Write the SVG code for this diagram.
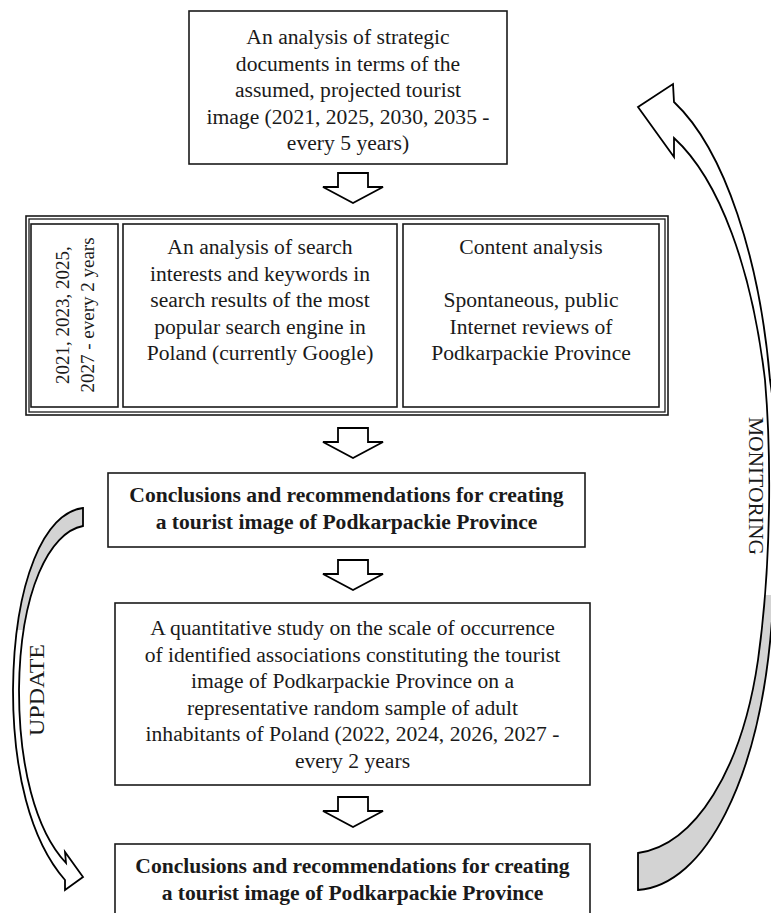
<svg xmlns="http://www.w3.org/2000/svg" width="771" height="913" viewBox="0 0 771 913">
<style>
.box{fill:#fff;stroke:#1a1a1a;stroke-width:1.6}
.t{font-family:"Liberation Serif","Times New Roman",serif;font-size:21.6px;fill:#1a1a1a;text-anchor:middle}
.b{font-weight:bold}
.r{font-size:19px}
.lab{font-family:"Liberation Serif","Times New Roman",serif;font-size:20px;fill:#1a1a1a;text-anchor:middle}
.ar{fill:#fff;stroke:#000;stroke-width:1.8;stroke-linejoin:miter}
.rib{stroke:#000;stroke-width:1.8;stroke-linejoin:miter}
</style>
<defs>
<path id="down" d="M-15,0 H15 V14 H30 L0,30 L-30,14 H-15 Z"/>
<clipPath id="clipU"><rect x="0" y="480" width="120" height="150"/></clipPath>
<clipPath id="clipM"><rect x="600" y="595" width="200" height="320"/></clipPath>
</defs>

<g id="node-strategic">
<rect class="box" x="189" y="11" width="318" height="153"/>
<text class="t" x="348" y="44">An analysis of strategic</text>
<text class="t" x="348" y="70.5">documents in terms of the</text>
<text class="t" x="348" y="97">assumed, projected tourist</text>
<text class="t" x="348" y="123.5">image (2021, 2025, 2030, 2035 -</text>
<text class="t" x="348" y="150">every 5 years)</text>
</g>

<g id="node-container">
<rect class="box" x="26" y="216" width="642" height="199" stroke-width="1.3"/>
<rect fill="none" stroke="#1a1a1a" stroke-width="1.3" x="29" y="219" width="636" height="193"/>
</g>

<g id="node-years">
<rect class="box" x="31" y="224" width="87" height="183"/>
<text class="t r" transform="translate(69,315) rotate(-90)">2021, 2023, 2025,</text>
<text class="t r" transform="translate(94,315) rotate(-90)">2027 - every 2 years</text>
</g>

<g id="node-search">
<rect class="box" x="123" y="224" width="274" height="183"/>
<text class="t" x="260" y="254">An analysis of search</text>
<text class="t" x="260" y="280.5">interests and keywords in</text>
<text class="t" x="260" y="307">search results of the most</text>
<text class="t" x="260" y="333.5">popular search engine in</text>
<text class="t" x="260" y="360">Poland (currently Google)</text>
</g>

<g id="node-content">
<rect class="box" x="403" y="224" width="256" height="183"/>
<text class="t" x="531" y="254">Content analysis</text>
<text class="t" x="531" y="307">Spontaneous, public</text>
<text class="t" x="531" y="333.5">Internet reviews of</text>
<text class="t" x="531" y="360">Podkarpackie Province</text>
</g>

<g id="node-conclusions1">
<rect class="box" x="108" y="473" width="477" height="74"/>
<text class="t b" x="346.5" y="502">Conclusions and recommendations for creating</text>
<text class="t b" x="346.5" y="528.5">a tourist image of Podkarpackie Province</text>
</g>

<g id="node-quantitative">
<rect class="box" x="115" y="603" width="475" height="182"/>
<text class="t" x="352.5" y="635">A quantitative study on the scale of occurrence</text>
<text class="t" x="352.5" y="661.5">of identified associations constituting the tourist</text>
<text class="t" x="352.5" y="688">image of Podkarpackie Province on a</text>
<text class="t" x="352.5" y="714.5">representative random sample of adult</text>
<text class="t" x="352.5" y="741">inhabitants of Poland (2022, 2024, 2026, 2027 -</text>
<text class="t" x="352.5" y="767.5">every 2 years</text>
</g>

<g id="node-conclusions2">
<rect class="box" x="115" y="844" width="475" height="80"/>
<text class="t b" x="352.5" y="873">Conclusions and recommendations for creating</text>
<text class="t b" x="352.5" y="899.5">a tourist image of Podkarpackie Province</text>
</g>

<g id="connectors">
<use href="#down" class="ar" transform="translate(353,173)"/>
<use href="#down" class="ar" transform="translate(353,428)"/>
<use href="#down" class="ar" transform="translate(353,560)"/>
<use href="#down" class="ar" transform="translate(353,797)"/>

<g id="update-arrow">
<path fill="#fff" d="M83,508 L83,526 C50,532 20,590 19,690 C19,765 35,830 66,863 L65,852 L83,877 L65,890 L65,880 C30,840 13,770 13,690 C14,580 45,512 83,508 Z"/>
<path fill="#d3d3d3" clip-path="url(#clipU)" d="M83,508 L83,526 C50,532 20,590 19,690 C19,765 35,830 66,863 L65,852 L83,877 L65,890 L65,880 C30,840 13,770 13,690 C14,580 45,512 83,508 Z"/>
<path class="rib" fill="none" d="M83,508 L83,526 C50,532 20,590 19,690 C19,765 35,830 66,863 L65,852 L83,877 L65,890 L65,880 C30,840 13,770 13,690 C14,580 45,512 83,508 Z"/>
</g>

<g id="monitoring-arrow">
<path fill="#fff" d="M638,853 L638,890 C705,885 760,780 772,620 C780,520 778,430 770,380 C760,260 725,150 674,102 L673,84 L638,107 L674,157 L674,138 C720,180 752,270 765,380 C771,450 772,560 758,660 C742,770 695,845 638,853 Z"/>
<path fill="#d3d3d3" clip-path="url(#clipM)" d="M638,853 L638,890 C705,885 760,780 772,620 C780,520 778,430 770,380 C760,260 725,150 674,102 L673,84 L638,107 L674,157 L674,138 C720,180 752,270 765,380 C771,450 772,560 758,660 C742,770 695,845 638,853 Z"/>
<path class="rib" fill="none" d="M638,853 L638,890 C705,885 760,780 772,620 C780,520 778,430 770,380 C760,260 725,150 674,102 L673,84 L638,107 L674,157 L674,138 C720,180 752,270 765,380 C771,450 772,560 758,660 C742,770 695,845 638,853 Z"/>
</g>

<text class="lab" transform="translate(749,486) rotate(90)" textLength="138" lengthAdjust="spacingAndGlyphs">MONITORING</text>
<text class="lab" transform="translate(44,690) rotate(-90)" textLength="92" lengthAdjust="spacingAndGlyphs">UPDATE</text>
</g>
</svg>
